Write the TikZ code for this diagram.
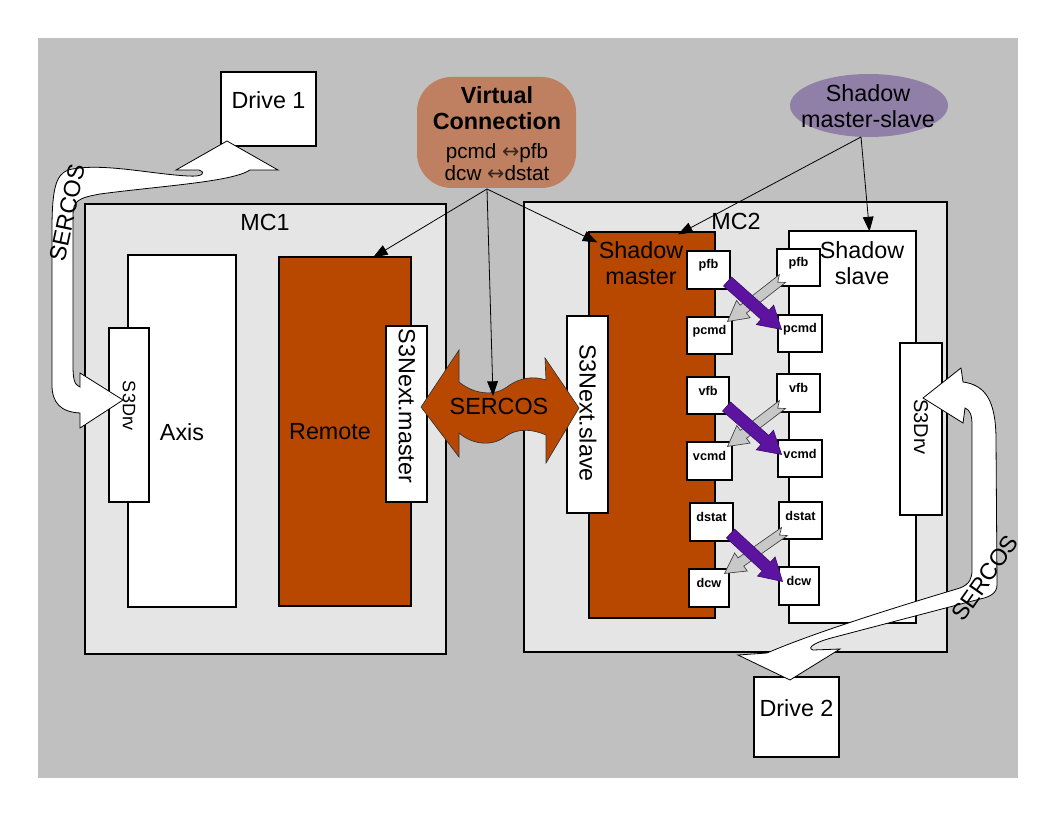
\documentclass[tikz,border=0pt]{standalone}
\usepackage{fontspec}
\setmainfont{Liberation Sans}
\newfontfamily\dejavu{DejaVu Sans}
\usetikzlibrary{fit,calc,arrows.meta,shapes.geometric}
\definecolor{bggray}{RGB}{192,192,192}
\definecolor{mcgray}{RGB}{229,229,229}
\definecolor{rust}{RGB}{184,72,0}
\definecolor{vcbrown}{RGB}{190,128,96}
\definecolor{smpurple}{RGB}{144,128,168}
\definecolor{arrpurple}{RGB}{92,20,160}
\definecolor{arrgray}{RGB}{200,200,200}
\newcommand\bigf{\fontsize{17.5}{20}\selectfont}
\newcommand\blockarr[7]{%
  \coordinate (ba-h) at ($(#3)!#6!(#2)$);
  \coordinate (ba-n) at ($(#2)!#7!(#3)$);
  \path[#1] ($(#2)!#4!90:(#3)$) -- ($(ba-h)!#4!90:(#3)$) -- ($(ba-h)!#5!90:(#3)$) -- (#3)
    -- ($(ba-h)!#5!-90:(#3)$) -- ($(ba-h)!#4!-90:(#3)$) -- ($(#2)!#4!-90:(#3)$) -- (ba-n) -- cycle;}
\tikzset{
  box/.style={draw=black, line width=0.8pt, inner sep=0pt, fill=white},
  lbl/.style={font=\bigf, align=center, inner sep=0pt},
  smbox/.style={box, font=\bfseries\fontsize{9.5}{10}\selectfont},
  conn/.style={draw=black, line width=0.6pt, -{Triangle[length=11pt,width=8pt]}},
  band/.style={draw=black, line width=0.6pt, fill=white},
  grayarr/.style={fill=arrgray, draw=black!75, line width=0.5pt},
  purparr/.style={fill=arrpurple, draw=arrpurple!70!black, line width=0.5pt},
}
\begin{document}
\begin{tikzpicture}[x=0.75pt,y=-0.75pt]
\useasboundingbox (0,0) rectangle (1056,816);
\fill[white] (0,0) rectangle (1056,816);
\fill[bggray] (38,38) rectangle (1018,778);

% main containers
\node[box, fill=mcgray, fit={(85,204)(446,654)}] (mc1) {};
\node[box, fill=mcgray, fit={(524,202)(947,652)}] (mc2) {};
\node[lbl] (mc1l) at (265,222) {MC1};
\node[lbl] (mc2l) at (736,221) {MC2};

% drives
\node[box, font=\bigf, fit={(221,72)(316,146)}] (drive1) {Drive 1};
\node[box, font=\bigf, fit={(754,677)(839,757)}] (drive2) {Drive 2};

% MC1 contents
\node[box, fit={(128,255)(236,607)}] (axis) {};
\node[lbl] (axisl) at (182,432) {Axis};
\node[box, fill=rust, fit={(279,257)(411,606)}] (remote) {};
\node[lbl] (remotel) at (330,432) {Remote};
\node[box, fit={(109,328)(149,502)}] (s3drvL) {};
\node[lbl, rotate=-90, font=\fontsize{13.5}{15}\selectfont] (s3drvLl) at (129,406) {S3Drv};
\node[box, fit={(386,326)(427,502)}] (s3nm) {};
\node[lbl, rotate=-90] (s3nml) at (407,406) {S3Next.master};

% MC2 contents
\node[box, fill=rust, fit={(589,232)(715,618)}] (smaster) {};
\node[lbl] (smasterl) at (641,263) {Shadow\\master};
\node[box, fit={(567,316)(608,513)}] (s3ns) {};
\node[lbl, rotate=-90] (s3nsl) at (588,413) {S3Next.slave};
\node[box, fit={(789,231)(916,623)}] (sslave) {};
\node[lbl] (sslavel) at (862,263) {Shadow\\slave};
\node[box, fit={(900,343)(942,515)}] (s3drvR) {};
\node[lbl, rotate=-90, font=\fontsize{15}{17}\selectfont] (s3drvRl) at (921,427) {S3Drv};

% small boxes
\node[smbox, fit={(687,251)(730,289)}] (lpfb) {pfb};
\node[smbox, fit={(777,249)(820,286)}] (rpfb) {pfb};
\node[smbox, fit={(687,317)(732,354)}] (lpcmd) {pcmd};
\node[smbox, fit={(778,315)(822,352)}] (rpcmd) {pcmd};
\node[smbox, fit={(687,377)(729,414)}] (lvfb) {vfb};
\node[smbox, fit={(777,374)(820,412)}] (rvfb) {vfb};
\node[smbox, fit={(687,442)(732,480)}] (lvcmd) {vcmd};
\node[smbox, fit={(778,440)(822,477)}] (rvcmd) {vcmd};
\node[smbox, fit={(690,503)(733,541)}] (ldstat) {dstat};
\node[smbox, fit={(779,502)(822,539)}] (rdstat) {dstat};
\node[smbox, fit={(689,569)(729,607)}] (ldcw) {dcw};
\node[smbox, fit={(779,567)(819,605)}] (rdcw) {dcw};

% gray block arrows (slave -> master)
\coordinate (g1a) at ($(rpfb.south west)+(6,-8)$);
\coordinate (g1b) at ($(lpcmd.north east)+(-5,5)$);
\coordinate (g2a) at ($(rvfb.south west)+(6,-8)$);
\coordinate (g2b) at ($(lvcmd.north east)+(-5,5)$);
\coordinate (g3a) at ($(rdstat.south west)+(6,-8)$);
\coordinate (g3b) at ($(ldcw.north east)+(-5,5)$);
\blockarr{grayarr}{g1a}{g1b}{3.75pt}{8.25pt}{15pt}{4.5pt}
\blockarr{grayarr}{g2a}{g2b}{3.75pt}{8.25pt}{15pt}{4.5pt}
\blockarr{grayarr}{g3a}{g3b}{3.75pt}{8.25pt}{15pt}{4.5pt}

% purple block arrows (master -> slave)
\coordinate (p1a) at ($(lpfb.south east)+(-3,-8)$);
\coordinate (p1b) at ($(rpcmd.north west)+(4,15)$);
\coordinate (p2a) at ($(lvfb.south east)+(-3,-8)$);
\coordinate (p2b) at ($(rvcmd.north west)+(4,15)$);
\coordinate (p3a) at ($(ldstat.south east)+(-3,-8)$);
\coordinate (p3b) at ($(rdcw.north west)+(4,15)$);
\blockarr{purparr}{p1a}{p1b}{4.5pt}{9.75pt}{16.5pt}{0pt}
\blockarr{purparr}{p2a}{p2b}{4.5pt}{9.75pt}{16.5pt}{0pt}
\blockarr{purparr}{p3a}{p3b}{4.5pt}{9.75pt}{16.5pt}{0pt}

% center SERCOS double arrow
\path[fill=rust, draw=black!80, line width=0.5pt]
  (421,407) -- (459,350) -- (459,382)
  .. controls (475,395) and (495,396) .. (507,387)
  .. controls (520,377) and (534,376) .. (546,380)
  -- (545,358) -- (579,408) -- (546,463) -- (546,435)
  .. controls (532,429) and (518,428) .. (506,436)
  .. controls (494,446) and (474,446) .. (459,433)
  -- (459,457) -- cycle;
\node[lbl] (sercosC) at (499,406) {SERCOS};

% left SERCOS band (Drive 1 <-> S3Drv)
\path[band]
  (80,387) .. controls (74,385) and (73,378) .. (73,365) -- (73,215)
  .. controls (73,201) and (78,198) .. (100,194)
  .. controls (160,186) and (232,182) .. (250,170)
  -- (278,170) -- (227,141) -- (176,170) -- (199,170)
  .. controls (207,173) and (202,177) .. (188,176)
  .. controls (150,174) and (100,162) .. (68,170)
  .. controls (56,175) and (52,188) .. (52,230) -- (52,385)
  .. controls (52,402) and (60,412) .. (80,413)
  -- (80,428) -- (123,400) -- (80,373) -- cycle;
\node[lbl, rotate=78] (sercosL) at (67,213) {SERCOS};

% right SERCOS band (S3Drv <-> Drive 2)
\path[band]
  (963,382) .. controls (985,385) and (996,400) .. (996,440) -- (997,585)
  .. controls (997,593) and (990,597) .. (980,599)
  -- (835,637) .. controls (815,642) and (806,648) .. (813,650)
  -- (840,649) -- (790,680) -- (738,655) -- (767,653)
  .. controls (820,630) and (920,600) .. (960,588)
  .. controls (970,584) and (972,578) .. (972,570) -- (972,425)
  .. controls (972,415) and (970,410) .. (965,408)
  -- (963,423) -- (923,398) -- (961,368) -- cycle;
\node[lbl, rotate=55] (sercosR) at (985,578) {SERCOS};

% Virtual connection bubble
\node[fill=vcbrown, rounded corners=26pt, inner sep=0pt, fit={(417,77)(576,188)}] (vc) {};
\node[lbl, font=\bfseries\bigf] (vct) at (497,108) {Virtual\\Connection};
\node[lbl, font=\fontsize{15.5}{17}\selectfont] (vcm) at (497,162)
  {pcmd {\dejavu\color{black!70!vcbrown}↔}pfb\\dcw {\dejavu\color{black!70!vcbrown}↔}dstat};

% Shadow master-slave ellipse
\node[ellipse, fill=smpurple, minimum width=118.5pt, minimum height=47.25pt, inner sep=0pt] (sms) at (869,105.5) {};
\node[lbl] (smsl) at (868,106) {Shadow\\master-slave};

% connectors
\coordinate (vcfoot) at (487,189);
\coordinate (sercostop) at (493,396);
\draw[conn] (vcfoot) -- ($(remote.north)+(28,1)$);
\draw[conn] (vcfoot) -- (sercostop);
\draw[conn] (vcfoot) -- ($(smaster.north west)+(9,11)$);
\coordinate (smsfoot) at (861,137);
\draw[conn] (smsfoot) -- ($(smaster.north)+(26,3)$);
\draw[conn] (smsfoot) -- ($(sslave.north)+(17,1)$);
\end{tikzpicture}
\end{document}
